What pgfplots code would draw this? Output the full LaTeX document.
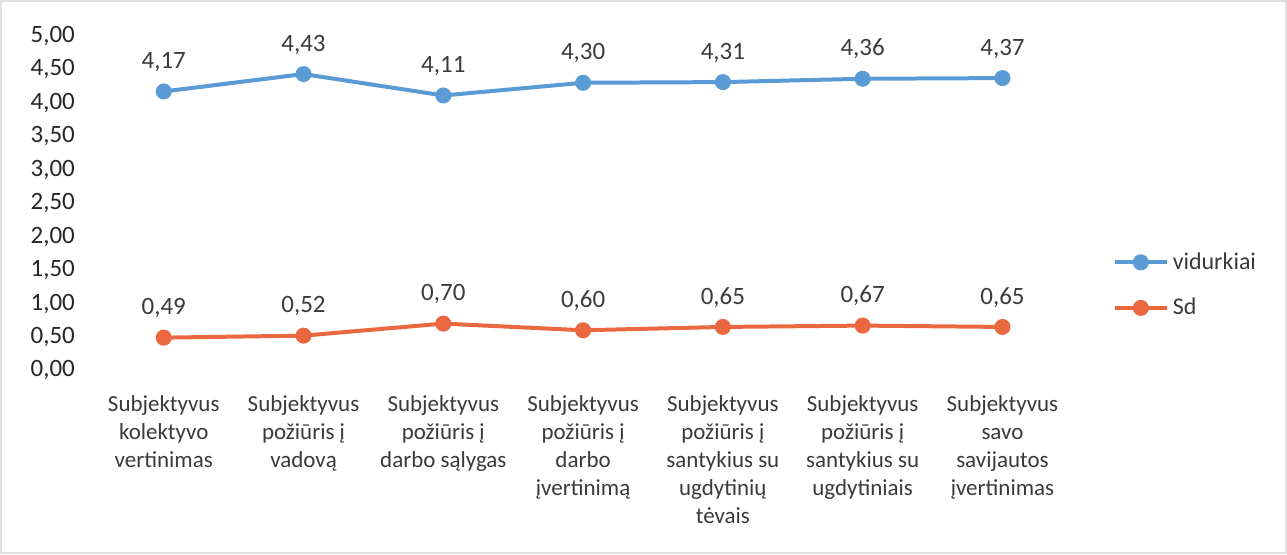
\documentclass[border=0pt]{standalone}
\usepackage{fontspec}
\setmainfont{Carlito}
\usepackage{pgfplots}
\pgfplotsset{compat=1.18}
\definecolor{cBlue}{HTML}{5B9BD5}
\definecolor{cOrange}{HTML}{E9683F}
\definecolor{cText}{HTML}{3A3A3A}

\begin{document}
\begin{tikzpicture}
% outer frame, sized like the reference (1 px = 0.5 pt)
\draw[black!12, line width=1pt] (-46.5pt,-91.5pt) rectangle (597pt,185pt);
\begin{axis}[
    at={(0,0)}, anchor=south west,
    scale only axis,
    width=490pt, height=167.5pt,
    xmin=-0.5, xmax=6.5,
    ymin=0, ymax=5,
    ytick={0,0.5,...,5},
    xtick={0,...,6},
    xticklabels={
        {Subjektyvus\\kolektyvo\\vertinimas},
        {Subjektyvus\\požiūris į\\vadovą},
        {Subjektyvus\\požiūris į\\darbo sąlygas},
        {Subjektyvus\\požiūris į\\darbo\\įvertinimą},
        {Subjektyvus\\požiūris į\\santykius su\\ugdytinių\\tėvais},
        {Subjektyvus\\požiūris į\\santykius su\\ugdytiniais},
        {Subjektyvus\\savo\\savijautos\\įvertinimas},
    },
    axis line style={draw=none},
    tick style={draw=none},
    xticklabel style={align=center, yshift=-9pt, text=cText,
        font=\fontsize{11.5}{14}\selectfont},
    yticklabel style={xshift=-6pt, text=black!85,
        font=\fontsize{12.5}{14}\selectfont},
    /pgf/number format/.cd, use comma, fixed, fixed zerofill, precision=2, assume math mode=true,
    /pgfplots/.cd,
    nodes near coords,
    nodes near coords style={font=\fontsize{12.5}{14}\selectfont, text=cText, anchor=south, yshift=5.5pt,
        /pgf/number format/.cd, use comma, fixed, fixed zerofill, precision=2, assume math mode=true},
    legend style={
        at={(1.041,0.255)}, anchor=west,
        draw=none, fill=none,
        font=\fontsize{12}{14}\selectfont,
        text=cText,
        inner sep=0pt,
        row sep=9pt,
        /tikz/every even column/.append style={column sep=0pt},
    },
    legend cell align={left},
    legend image code/.code={
        \draw[#1, mark=none] (0pt,0pt) -- (26pt,0pt);
        \draw[#1, only marks] plot coordinates {(13pt,0pt)};
    },
]
\addplot[cBlue, line width=2pt, mark=*, mark size=3pt, mark options={solid}]
    coordinates {(0,4.17) (1,4.43) (2,4.11) (3,4.30) (4,4.31) (5,4.36) (6,4.37)};
\addlegendentry{vidurkiai}
\addplot[cOrange, line width=2pt, mark=*, mark size=3pt, mark options={solid}]
    coordinates {(0,0.49) (1,0.52) (2,0.70) (3,0.60) (4,0.65) (5,0.67) (6,0.65)};
\addlegendentry{Sd}
\end{axis}
\end{tikzpicture}
\end{document}
